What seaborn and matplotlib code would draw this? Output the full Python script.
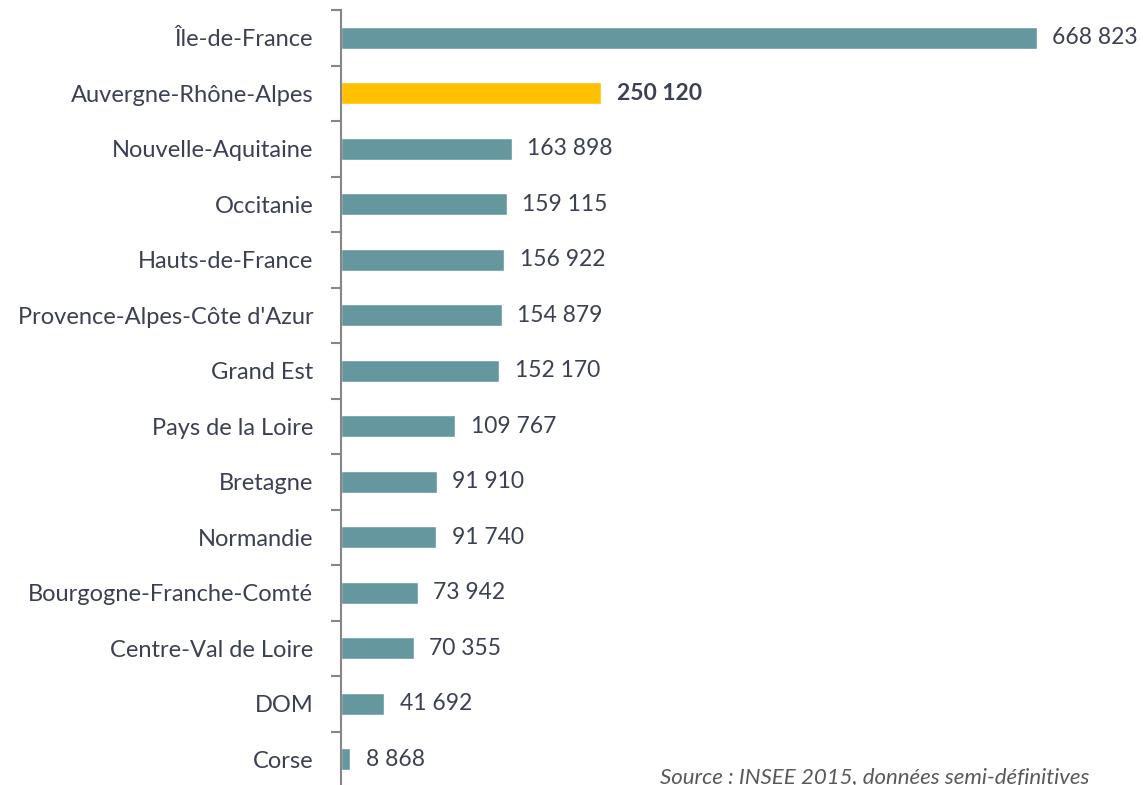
import matplotlib
matplotlib.use("Agg")
import matplotlib.pyplot as plt
import numpy as np
import seaborn as sns

REGIONS = [
    "Île-de-France",
    "Auvergne-Rhône-Alpes",
    "Nouvelle-Aquitaine",
    "Occitanie",
    "Hauts-de-France",
    "Provence-Alpes-Côte d'Azur",
    "Grand Est",
    "Pays de la Loire",
    "Bretagne",
    "Normandie",
    "Bourgogne-Franche-Comté",
    "Centre-Val de Loire",
    "DOM",
    "Corse",
]

VALUES = [668823, 250120, 163898, 159115, 156922, 154879, 152170,
          109767, 91910, 91740, 73942, 70355, 41692, 8868]

HIGHLIGHT = "Auvergne-Rhône-Alpes"
SOURCE = "Source : INSEE 2015, données semi-définitives"

TEAL = "#65979e"
GOLD = "#ffc000"
TEXT = "#3b4152"


def fmt(v):
    return f"{v:,}".replace(",", " ")


sns.set_style("white")
plt.rcParams["font.family"] = ["Lato", "DejaVu Sans"]

fig = plt.figure(figsize=(11.43, 7.85), dpi=100)
ax = fig.add_axes([341 / 1143, -2 / 785, (1037 - 341) / 1143, 777 / 785])

palette = {r: (GOLD if r == HIGHLIGHT else TEAL) for r in REGIONS}
sns.barplot(x=VALUES, y=REGIONS, hue=REGIONS, palette=palette,
            legend=False, width=0.4, saturation=1, ax=ax)

ax.set_xlim(0, VALUES[0])
ax.set_ylim(len(REGIONS) - 0.5, -0.5)

for i, (r, v) in enumerate(zip(REGIONS, VALUES)):
    ax.annotate(fmt(v), (v, i), xytext=(11, 0), textcoords="offset points",
                va="center", ha="left", fontsize=16.5, color=TEXT,
                fontweight="bold" if r == HIGHLIGHT else "normal",
                annotation_clip=False)

for side in ["top", "right", "bottom"]:
    ax.spines[side].set_visible(False)
ax.spines["left"].set_color("#868686")
ax.spines["left"].set_linewidth(1.5)

ax.set_xticks([])
ax.set_yticks(np.arange(-0.5, len(REGIONS), 1.0), minor=True)
ax.tick_params(axis="y", which="minor", length=7, width=1.5, color="#868686", direction="out", left=True)
ax.tick_params(axis="y", which="major", length=0, pad=20, labelsize=17, labelcolor=TEXT)
ax.set_xlabel("")
ax.set_ylabel("")

fig.text(660 / 1143, -2 / 785, SOURCE, fontsize=16, style="italic",
         color="#595959", ha="left", va="bottom")

fig.savefig("out.png", dpi=100)
